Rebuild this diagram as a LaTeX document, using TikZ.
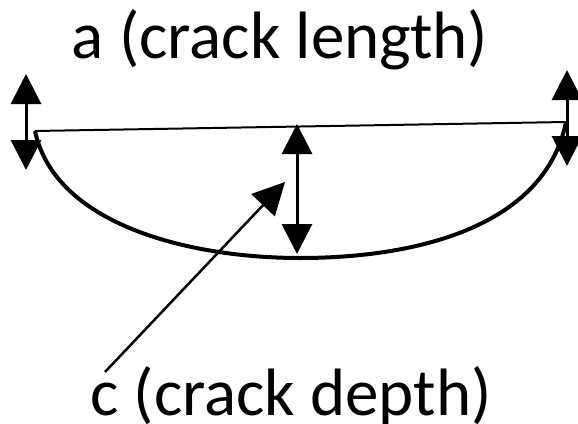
\documentclass[tikz,border=0pt]{standalone}
\usepackage{fontspec}
\setmainfont{Carlito}
\usetikzlibrary{arrows.meta}

\begin{document}
\begin{tikzpicture}[x=1pt,y=-1pt,line width=3pt,
  dimarrow/.style={{Triangle[length=30pt,width=30pt]}-{Triangle[length=30pt,width=30pt]}},
  pointer/.style={line width=2.5pt,-{Triangle[length=32pt,width=32pt]}}]
  \useasboundingbox (0,0) rectangle (578,423);
  \fontsize{67}{78}\selectfont
  % labels
  \node (alabel) at (280,40) {a (crack length)};
  \node (clabel) at (291,396) {c (crack depth)};
  % crack mouth and front
  \coordinate (ml) at (35,131);
  \coordinate (mr) at (566,122);
  \draw[line width=2pt] (ml) -- (mr);
  \draw[line width=4pt] (ml) .. controls (55,225) and (190,258) .. (300,258)
    .. controls (420,258) and (545,225) .. (mr);
  % dimension arrows
  \coordinate (lt) at (26,74);  \coordinate (lb) at (26,170);
  \coordinate (rt) at (567,70); \coordinate (rb) at (567,166);
  \coordinate (mt) at (297,124); \coordinate (mb) at (297,254);
  \draw[dimarrow] (lt) -- (lb);
  \draw[dimarrow] (rt) -- (rb);
  \draw[dimarrow] (mt) -- (mb);
  % depth pointer
  \coordinate (ps) at (105,372);
  \coordinate (pt) at (285,182);
  \draw[pointer] (ps) -- (pt);
\end{tikzpicture}
\end{document}
